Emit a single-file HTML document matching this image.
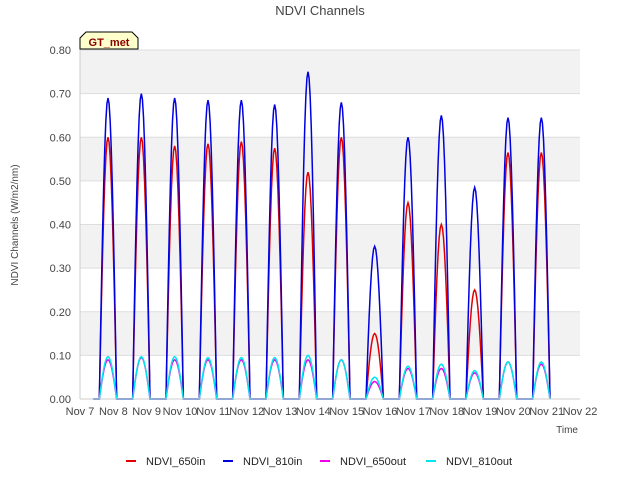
<!DOCTYPE html>
<html><head><meta charset="utf-8"><style>
body{margin:0;background:#fff;font-family:"Liberation Sans",sans-serif}
svg text{font-family:"Liberation Sans",sans-serif}
</style></head><body>
<svg id="c" width="640" height="480">
<rect x="80" y="50" width="500" height="349" fill="#fff"/>
<g id="bands"></g><g id="grid"></g><g id="series"></g><g id="axes"></g>
<text x="320" y="15" text-anchor="middle" font-size="13" fill="#444">NDVI Channels</text>
<text x="18" y="225" text-anchor="middle" font-size="10" fill="#444" transform="rotate(-90 18 225)">NDVI Channels (W/m2/nm)</text>
<text x="578" y="433" text-anchor="end" font-size="10" fill="#444">Time</text>
<g>
<path d="M80,49 L80,38 L86,32 L132,32 L138,38 L138,49 Z" fill="#ffffcc" stroke="#000"/>
<text x="109" y="46" text-anchor="middle" font-size="11" font-weight="bold" fill="#8b0000">GT_met</text></g>
<g id="legend"></g>
</svg>
<script>
const days=[7,8,9,10,11,12,13,14,15,16,17,18,19,20];
const peak810in=[0.69,0.70,0.69,0.685,0.685,0.675,0.75,0.68,0.35,0.60,0.65,0.485,0.645,0.645];
const peak650in=[0.60,0.60,0.58,0.585,0.59,0.575,0.52,0.60,0.15,0.45,0.40,0.25,0.565,0.565];
const peak650out=[0.09,0.095,0.09,0.09,0.09,0.09,0.09,0.09,0.04,0.07,0.07,0.06,0.085,0.08];
const peak810out=[0.097,0.097,0.097,0.095,0.095,0.095,0.10,0.09,0.05,0.075,0.08,0.065,0.085,0.085];
const yTicks=[0,0.1,0.2,0.3,0.4,0.5,0.6,0.7,0.8];
const xTicks=[7,8,9,10,11,12,13,14,15,16,17,18,19,20,21,22];
const X=d=>80+(d-7)*500/15, Y=v=>399-v*349/0.8;
const NS="http://www.w3.org/2000/svg";
function mk(p,t,a){const e=document.createElementNS(NS,t);for(const k in a)e.setAttribute(k,a[k]);p.appendChild(e);return e;}
const bands=document.getElementById('bands'),grid=document.getElementById('grid'),axes=document.getElementById('axes');
for(let i=0;i<yTicks.length-1;i+=2){const b=mk(bands,'rect',{x:80,y:Y(yTicks[i+2]||0.8),width:500,height:Y(yTicks[i+1])-Y(yTicks[i+2]||0.8),fill:'#f2f2f2'});

}
yTicks.forEach(v=>{const l=mk(grid,'line',{x1:80,x2:580,y1:Y(v),y2:Y(v),stroke:'#ddd'});


const t=mk(axes,'text',{x:71,y:Y(v)+4,'text-anchor':'end','font-size':11,fill:'#444'});t.textContent=v.toFixed(2);

});
xTicks.forEach(d=>{const t=mk(axes,'text',{x:X(d),y:415,'text-anchor':'middle','font-size':11,fill:'#444'});t.textContent='Nov '+d;

});
mk(axes,'line',{x1:80,x2:80,y1:50,y2:399,stroke:'#ccc'});
mk(axes,'line',{x1:80,x2:580,y1:399,y2:399,stroke:'#ccc'});
const ser=document.getElementById('series');
function path(peaks,color,name){let pts=[[X(7.4),Y(0)]];
days.forEach((d,i)=>{pts.push([X(d+0.58),Y(0)]);for(let h=0;h<=16;h++){const f=h/16;pts.push([X(d+0.58+f*0.52),Y(peaks[i]*Math.sin(Math.PI*f))]);}pts.push([X(d+1.1),Y(0)]);});
pts.push([X(21.1),Y(0)]);
const p=mk(ser,'polyline',{points:pts.map(p=>p.join(',')).join(' '),fill:'none',stroke:color,'stroke-width':1.5});

}
path(peak650in,'#e00000','series-ndvi-650in');
path(peak810in,'#0000e0','series-ndvi-810in');
path(peak650out,'#ee00ee','series-ndvi-650out');
path(peak810out,'#00e5ee','series-ndvi-810out');
const lg=document.getElementById('legend');
[['NDVI_650in','#e00000',126],['NDVI_810in','#0000e0',223],['NDVI_650out','#ee00ee',320],['NDVI_810out','#00e5ee',426]].forEach(([n,c,x])=>{
const g=mk(lg,'g',{});


mk(g,'line',{x1:x,x2:x+10,y1:461,y2:461,stroke:c,'stroke-width':2});
const t=mk(g,'text',{x:x+20,y:465,'font-size':11,fill:'#222'});t.textContent=n;});
</script>
</body></html>
